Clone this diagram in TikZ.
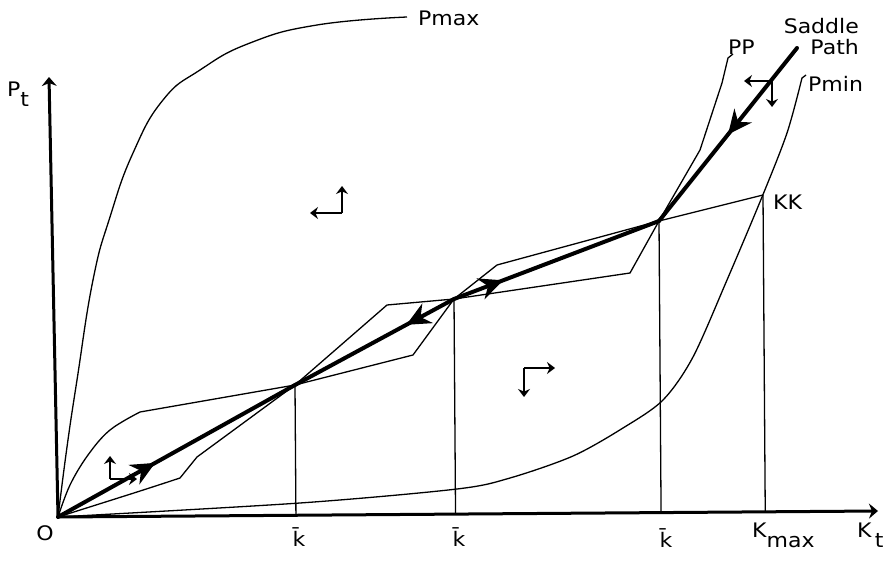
\documentclass[tikz,border=0pt]{standalone}
\usepackage{fontspec}
\setmainfont[FakeStretch=1.1]{DejaVu Sans}
\usetikzlibrary{arrows.meta,calc,decorations.markings}

\tikzset{
  thinline/.style={line width=1.3pt},
  axisline/.style={line width=3pt,-{Stealth[length=9pt,width=15pt]}},
  saddle/.style={line width=4pt,line cap=round},
  flow/.style={line width=2.4pt,-{Stealth[length=8pt,width=12pt]}},
  lbl/.style={font=\fontsize{20}{22}\selectfont,inner sep=0pt},
  midarrow/.style={postaction={decorate,decoration={markings,
      mark=at position #1 with {\arrow{Stealth[length=24pt,width=22pt]}}}}},
  midarrowback/.style={postaction={decorate,decoration={markings,
      mark=at position #1 with {\arrowreversed{Stealth[length=24pt,width=22pt]}}}}}
}

\begin{document}
\begin{tikzpicture}[x=1pt,y=-1pt]
                \useasboundingbox (0,0) rectangle (894,564);
                \def\lower{10pt}
                \coordinate (O) at (58,517);
                \coordinate (ytip) at (49,77);
                \coordinate (xtip) at (878,511);
                \coordinate (E1) at (295,385);
                \coordinate (E2) at (454,299);
                \coordinate (E3) at (659,221);
                \coordinate (KKend) at (763,195);
                \coordinate (Stop) at (797,48);
                \draw[axisline] (O) -- (ytip);
                \draw[axisline] (O) -- (xtip);
                \foreach \p in {E1,E2,E3,KKend} {
                  \draw[thinline] (\p) -- ($(O)!(\p)!(xtip)$);
                }
                \draw[thinline] plot[smooth,tension=0.8] coordinates {(58,517) (67,447) (77,380) (93,280) (110,217) (133,153) (163,100) (200,70) (250,43) (317,25) (407,17)};
                \draw[thinline] plot[smooth,tension=0.5] coordinates {(58,517) (300,503) (457,489) (510,478) (573,456) (623,428) (663,400) (693,357) (727,280) (762,197) (787,133) (802,78)} -- (806,75);
                \draw[thinline] plot[smooth,tension=0.6] coordinates {(58,517) (70,485) (88,455) (110,430) (140,412)} -- (E1) -- (387,305) -- (E2) -- (497,265) -- (E3) -- (700,150) -- (722,83) -- (728,58) -- (733,54);
                \draw[thinline] plot[smooth,tension=0.5] coordinates {(58,517) (137,492) (180,478)} -- (197,457) -- (E1) -- (413,355) -- (E2) -- (630,273) -- (E3) -- (KKend);
                \draw[saddle,midarrow=0.41] (O) -- (E1);
                \draw[saddle,midarrowback=0.7] (E1) -- (E2);
                \draw[saddle,midarrow=0.24] (E2) -- (E3);
                \draw[saddle,midarrowback=0.5] (E3) -- (Stop);
                \coordinate (f1) at (342,213);
                \coordinate (f2) at (524,368);
                \coordinate (f3) at (110,479);
                \coordinate (f4) at (772,81);
                \draw[flow] (f1) -- ++(-32,0);
                \draw[flow] (f1) -- ++(0,-27);
                \draw[flow] (f2) -- ++(31,0);
                \draw[flow] (f2) -- ++(0,29);
                \draw[flow] (f3) -- ++(0,-23);
                \draw[flow] (f3) -- ++(27,0);
                \draw[flow] (f4) -- ++(-28,0);
                \draw[flow] (f4) -- ++(0,26);
                \node[lbl, anchor=west] (pmax) at (418,18) {Pmax};
                \node[lbl, anchor=west] (pp) at (728,47) {PP};
                \node[lbl, anchor=east] (saddlelbl) at (859,26) {Saddle};
                \node[lbl, anchor=east] (pathlbl) at (859,47) {Path};
                \node[lbl, anchor=west] (pmin) at (808,84) {Pmin};
                \node[lbl, anchor=west] (kk) at (773,202) {KK};
                \node[lbl] (origin) at (45,533) {O};
                \node[lbl] (kbar1) at (299,537) {\=k};
                \node[lbl] (kbar2) at (459,537) {\=k};
                \node[lbl] (kbar3) at (666,538) {\=k};
                \node[lbl, anchor=base west] (kmax) at (752,537) {K\raisebox{-\lower}{max}};
                \node[lbl, anchor=base west] (kt) at (857,537) {K\,\raisebox{-\lower}{t}};
                \node[lbl, anchor=base west] (pt) at (7,97) {P\raisebox{-\lower}{t}};
              \end{tikzpicture}
\end{document}
